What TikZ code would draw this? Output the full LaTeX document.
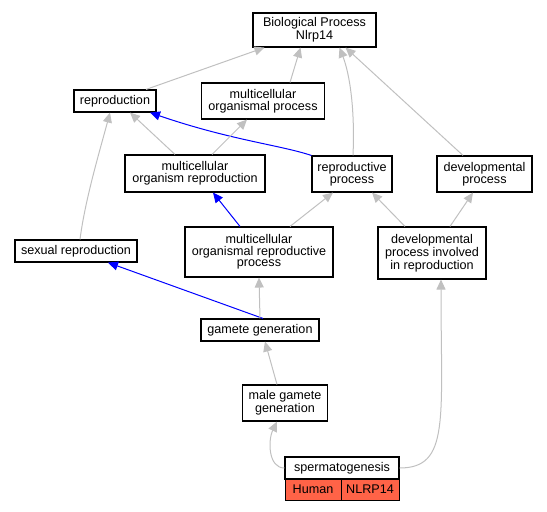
\documentclass[tikz,border=0pt]{standalone}
\usepackage{fontspec}
\setmainfont{Liberation Sans}
\usetikzlibrary{arrows.meta}
\definecolor{edgegray}{RGB}{192,192,192}
\definecolor{tomatofill}{RGB}{255,99,71}
\tikzset{
  term/.style={draw=black, line width=1.1pt, fill=white, align=center, inner sep=0pt,
    font=\fontsize{12.6}{11.7}\selectfont},
  gedge/.style={draw=edgegray, line width=1pt, -{Triangle[length=10pt,width=9pt]}},
  bedge/.style={draw=blue, line width=1pt, -{Triangle[length=10pt,width=9pt]}},
  cell/.style={draw=black, line width=1pt, fill=tomatofill, inner sep=0pt,
    font=\fontsize{12.6}{11.7}\selectfont},
}
\begin{document}
\begin{tikzpicture}[x=1pt,y=-1pt]
\useasboundingbox (0,0) rectangle (547,512);
\node[term, minimum width=123pt, minimum height=34pt] (bp) at (314.5,30) {Biological Process\\Nlrp14};
\node[term, minimum width=82pt, minimum height=22pt] (rep) at (115,101) {reproduction};
\node[term, minimum width=123pt, minimum height=36pt] (mop) at (263,101) {multicellular\\organismal process};
\node[term, minimum width=140pt, minimum height=37pt] (mor) at (195,173.5) {multicellular\\organism reproduction};
\node[term, minimum width=80pt, minimum height=36pt] (rp) at (352,174) {reproductive\\process};
\node[term, minimum width=95pt, minimum height=36pt] (dp) at (484.5,174) {developmental\\process};
\node[term, minimum width=122pt, minimum height=22pt] (sr) at (76,251) {sexual reproduction};
\node[term, minimum width=148pt, minimum height=50pt] (morp) at (259,252) {multicellular\\organismal reproductive\\process};
\node[term, minimum width=108pt, minimum height=52pt] (dpir) at (432,253) {developmental\\process involved\\in reproduction};
\node[term, minimum width=118pt, minimum height=22pt] (gg) at (260,330) {gamete generation};
\node[term, minimum width=85pt, minimum height=36pt] (mgg) at (285,403) {male gamete\\generation};
\node[term, minimum width=114pt, minimum height=22pt] (sp) at (342,468) {spermatogenesis};
\node[cell, minimum width=56pt, minimum height=21pt] (hum) at (313,489.5) {Human};
\node[cell, minimum width=58pt, minimum height=21pt] (nl) at (370,489.5) {NLRP14};

% edges to BP
\draw[gedge] ([xshift=31pt]rep.north) -- ([xshift=-50pt]bp.south);
\draw[gedge] ([xshift=27pt]mop.north) -- ([xshift=-14pt]bp.south);
\draw[gedge] ([xshift=1pt]rp.north) .. controls (355,110) and (350,75) .. ([xshift=25pt]bp.south);
\draw[gedge] ([xshift=-21.5pt]dp.north) -- ([xshift=31pt]bp.south);
% edges to reproduction
\draw[gedge] ([xshift=-20pt]mor.north) -- ([xshift=15pt]rep.south);
\draw[bedge] (rp.north west) .. controls (280,145) and (230,140) .. ([xshift=35pt]rep.south);
\draw[gedge] ([xshift=4pt]sr.north) .. controls (85,200) and (100,150) .. ([xshift=-5pt]rep.south);
% mor -> mop
\draw[gedge] ([xshift=17pt]mor.north) -- ([xshift=-16pt]mop.south);
% morp
\draw[bedge] ([xshift=-19pt]morp.north) -- ([xshift=18pt]mor.south);
\draw[gedge] ([xshift=31pt]morp.north) -- ([xshift=-19pt]rp.south);
% dpir
\draw[gedge] ([xshift=-27pt]dpir.north) -- ([xshift=20pt]rp.south);
\draw[gedge] ([xshift=18pt]dpir.north) -- ([xshift=-11.5pt]dp.south);
% gg
\draw[bedge] ([xshift=3pt]gg.north) -- ([xshift=32pt]sr.south);
\draw[gedge] (gg.north) -- (morp.south);
% mgg -> gg
\draw[gedge] ([xshift=-8pt]mgg.north) -- ([xshift=5pt]gg.south);
% spermatogenesis
\draw[gedge] (sp.west) .. controls (268,468) and (268,440) .. ([xshift=-8pt]mgg.south);
\draw[gedge] (sp.east) .. controls (450,468) and (441,420) .. ([xshift=9pt]dpir.south);
\end{tikzpicture}
\end{document}
